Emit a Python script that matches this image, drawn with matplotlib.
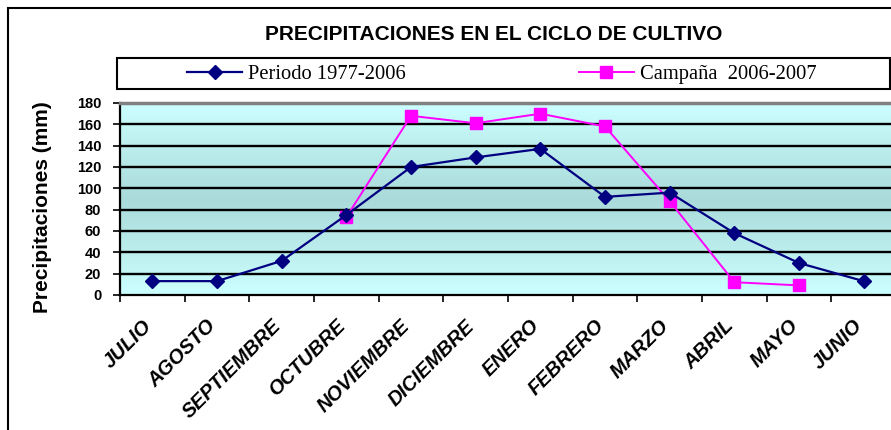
import matplotlib.pyplot as plt
import numpy as np
from matplotlib.patches import Rectangle

plt.rcParams['font.family'] = ['Liberation Sans', 'DejaVu Sans']

# datos
meses = ['JULIO', 'AGOSTO', 'SEPTIEMBRE', 'OCTUBRE', 'NOVIEMBRE', 'DICIEMBRE',
         'ENERO', 'FEBRERO', 'MARZO', 'ABRIL', 'MAYO', 'JUNIO']
periodo = [13, 13, 32, 75, 120, 129, 137, 92, 96, 58, 30, 13]
campana_meses = ['OCTUBRE', 'NOVIEMBRE', 'DICIEMBRE', 'ENERO', 'FEBRERO',
                 'MARZO', 'ABRIL', 'MAYO']
campana = [73, 168, 161, 170, 158, 88, 12, 9]
yticks = [0, 20, 40, 60, 80, 100, 120, 140, 160, 180]

W, H = 891, 430
fig = plt.figure(figsize=(W / 100, H / 100), dpi=100)

# marco exterior
fig.patches.append(Rectangle((8 / W, -0.1), 1.2, 1 - 8 / H + 0.1, transform=fig.transFigure,
                             fill=False, edgecolor='black', linewidth=1.5))

ax = fig.add_axes([120 / W, 1 - 295 / H, 776 / W, 192 / H])

# fondo degradado
top = np.array([204, 255, 255]) / 255
mid = np.array([170, 218, 218]) / 255
t = np.linspace(0, 1, 256)
w = 1 - np.abs(t - 0.5) * 2
grad = top[None, :] * (1 - w[:, None]) + mid[None, :] * w[:, None]
ax.imshow(grad[:, None, :], extent=[0, 12, 0, 180], aspect='auto', zorder=0)

x = np.arange(len(meses)) + 0.5
xc = [meses.index(m) + 0.5 for m in campana_meses]

for yv in yticks[1:]:
    ax.axhline(yv, color='black', linewidth=1.7, zorder=1)

ax.plot(x, periodo, color='#000080', marker='D', markersize=7, linewidth=1.6,
        zorder=3, label='Periodo 1977-2006')
ax.plot(xc, campana, color='#FF00FF', marker='s', markersize=8, linewidth=1.4,
        zorder=2, label='Campaña  2006-2007')

ax.set_xlim(0, 12)
ax.set_ylim(0, 180)
ax.set_yticks(yticks)
ax.set_yticklabels([str(v) for v in yticks], fontsize=10.5, fontweight='bold')
ax.set_xticks(np.arange(0, 13))
ax.set_xticklabels([])
ax.set_xticks(x, minor=True)
ax.set_xticklabels(meses, minor=True, rotation=45, ha='right', va='baseline',
                   rotation_mode='anchor', fontsize=14.5, fontweight='bold', style='italic')
ax.tick_params(axis='x', which='minor', length=0, pad=23)
ax.tick_params(axis='x', which='major', length=5, width=1.2, direction='out')
ax.tick_params(axis='y', length=5, width=1.2, direction='out', pad=8.5)

for s in ['left', 'bottom']:
    ax.spines[s].set_linewidth(1.6)
ax.spines['top'].set_color('#808080')
ax.spines['top'].set_linewidth(2.5)
ax.spines['right'].set_visible(False)

ax.set_ylabel('Precipitaciones (mm)', fontsize=15, fontweight='bold')
ax.yaxis.set_label_coords(-0.0876, 0.46)

fig.text(493.5 / W, 1 - 34 / H, 'PRECIPITACIONES EN EL CICLO DE CULTIVO',
         ha='center', va='center', fontsize=15, fontweight='bold')

# leyenda
fig.patches.append(Rectangle((117 / W, 1 - 89 / H), (890 - 117) / W, 31 / H,
                             transform=fig.transFigure, fill=False,
                             edgecolor='black', linewidth=1.5))
h, l = ax.get_legend_handles_labels()
fig.legend(h, l, loc='center', bbox_to_anchor=(502 / W, 1 - 74 / H), ncol=2,
           frameon=False, prop={'family': 'Liberation Serif', 'size': 14.8},
           handlelength=2.67, handletextpad=0.3, columnspacing=8.4, borderpad=0)

fig.savefig('out.png', dpi=100, facecolor='white')
